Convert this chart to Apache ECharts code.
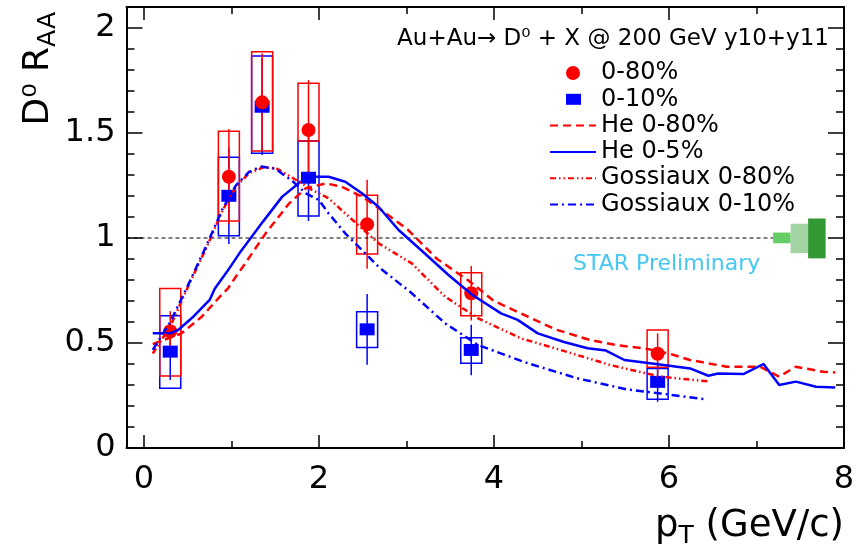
<!DOCTYPE html>
<html><head><meta charset="utf-8">
<script src="https://cdn.jsdelivr.net/npm/echarts@6/dist/echarts.min.js"></script>
<style>html,body{margin:0;padding:0;background:#fff}#c{width:856px;height:552px}</style>
</head><body><div id="c"></div>
<script>
// ---------- data ----------
const xMajorTicks = [0, 2, 4, 6, 8];
const xMinorTicks = [1, 3, 5, 7];
const yMajorTicks = [0, 0.5, 1, 1.5, 2];
const yMinorTicks = [0.1, 0.2, 0.3, 0.4, 0.6, 0.7, 0.8, 0.9, 1.1, 1.2, 1.3, 1.4, 1.6, 1.7, 1.8, 1.9];

const ptX     = [0.3, 0.97, 1.35, 1.88, 2.55, 3.74, 5.87];
// 0-80%
const raa080  = [0.556, 1.292, 1.646, 1.514, 1.065, 0.737, 0.449];
const stat080 = [0.095, 0.227, 0.233, 0.238, 0.212, 0.130, 0.097];
const sysLo080 = [0.343, 1.081, 1.414, 1.462, 0.924, 0.630, 0.384];
const sysHi080 = [0.760, 1.508, 1.887, 1.737, 1.203, 0.835, 0.562];
// 0-10%
const raa010  = [0.459, 1.201, 1.625, 1.287, 0.565, 0.467, 0.315];
const stat010 = [0.135, 0.230, 0.230, 0.206, 0.168, 0.120, 0.095];
const sysLo010 = [0.284, 1.011, 1.403, 1.105, 0.478, 0.403, 0.232];
const sysHi010 = [0.630, 1.384, 1.867, 1.462, 0.649, 0.525, 0.379];

// model curves
const he080 = [[0.1,0.495],[0.43,0.546],[0.66,0.625],[0.85,0.713],[0.96,0.76],[1.05,0.816],[1.13,0.863],[1.39,1.022],[1.66,1.165],[1.85,1.237],[2.08,1.26],[2.26,1.244],[2.49,1.197],[2.66,1.149],[3.02,1.038],[3.35,0.9],[3.70,0.8],[4.0,0.7],[4.39,0.625],[4.7,0.565],[5.1,0.514],[5.4,0.49],[5.71,0.475],[6.0,0.45],[6.24,0.419],[6.66,0.387],[7.04,0.387],[7.26,0.34],[7.45,0.387],[7.76,0.363],[7.9,0.36]];
const he05 = [[0.1,0.546],[0.3,0.546],[0.39,0.562],[0.55,0.62],[0.75,0.705],[0.81,0.76],[0.95,0.84],[1.09,0.927],[1.36,1.078],[1.58,1.197],[1.79,1.268],[1.89,1.292],[2.11,1.292],[2.30,1.268],[2.49,1.213],[2.68,1.149],[2.91,1.038],[3.2,0.93],[3.48,0.824],[3.75,0.73],[4.08,0.641],[4.27,0.61],[4.5,0.546],[4.8,0.505],[5.07,0.475],[5.28,0.464],[5.49,0.419],[5.94,0.395],[6.24,0.379],[6.45,0.344],[6.56,0.355],[6.85,0.352],[7.08,0.40],[7.26,0.30],[7.45,0.316],[7.68,0.292],[7.9,0.288]];
const gos080 = [[0.1,0.45],[0.3,0.578],[0.52,0.784],[0.72,0.96],[0.9,1.133],[1.05,1.244],[1.2,1.308],[1.36,1.336],[1.51,1.332],[1.74,1.276],[1.92,1.229],[2.11,1.189],[2.30,1.117],[2.68,0.975],[3.06,0.879],[3.44,0.721],[3.82,0.617],[4.31,0.522],[4.76,0.467],[5.33,0.395],[5.9,0.34],[6.47,0.316]];
const gos010 = [[0.1,0.467],[0.3,0.6],[0.52,0.79],[0.72,0.97],[0.9,1.14],[1.05,1.25],[1.2,1.315],[1.34,1.34],[1.5,1.33],[1.7,1.27],[1.85,1.213],[2.0,1.18],[2.11,1.117],[2.30,1.022],[2.49,0.943],[2.68,0.863],[3.06,0.737],[3.44,0.594],[3.82,0.49],[4.39,0.403],[4.95,0.332],[5.52,0.279],[5.9,0.26],[6.41,0.232]];

const unityLine = [[-0.2, 1], [7.19, 1]];
// normalisation uncertainty boxes
const normX0 = [7.19, 7.39, 7.59];
const normX1 = [7.39, 7.59, 7.79];
const normLo = [0.975, 0.928, 0.903];
const normHi = [1.026, 1.068, 1.093];

// ---------- styling ----------
const FONT = 'DejaVu Sans';
const RED = '#ff0000', BLUE = '#0000ff';
const BOX_HW = 0.12;
const normColors = ['#66cc66', '#a3d4a3', '#339933'];

function zip3(a, b, c) { return a.map((v, i) => [v, b[i], c[i]]); }
function errData(y, e) { return ptX.map((x, i) => [x, y[i] - e[i], y[i] + e[i]]); }

function boxRender(color) {
  return function (params, api) {
    const x = api.value(0), lo = api.value(1), hi = api.value(2);
    const p1 = api.coord([x - BOX_HW, hi]), p2 = api.coord([x + BOX_HW, lo]);
    return { type: 'rect', shape: { x: p1[0], y: p1[1], width: p2[0] - p1[0], height: p2[1] - p1[1] },
      style: { fill: 'none', stroke: color, lineWidth: 1.5 } };
  };
}
function errRender(color) {
  return function (params, api) {
    const x = api.value(0);
    const a = api.coord([x, api.value(1)]), b = api.coord([x, api.value(2)]);
    return { type: 'line', shape: { x1: a[0], y1: a[1], x2: b[0], y2: b[1] },
      style: { stroke: color, lineWidth: 1.5 } };
  };
}
function normRender(params, api) {
  const p1 = api.coord([api.value(0), api.value(3)]), p2 = api.coord([api.value(1), api.value(2)]);
  return { type: 'rect', shape: { x: p1[0], y: p1[1], width: p2[0] - p1[0], height: p2[1] - p1[1] },
    style: { fill: normColors[params.dataIndex], stroke: 'none' } };
}

const axisLineStyle = { color: '#000', width: 2 };
function xAx(pos, ticks, len, showLine, withLabels) {
  const ax = { type: 'value', min: -0.2, max: 8, position: pos,
    axisLine: { show: showLine, onZero: false, lineStyle: axisLineStyle },
    axisTick: { show: true, inside: true, length: len, customValues: ticks, lineStyle: { color: '#000', width: 1.5 } },
    axisLabel: { show: false }, splitLine: { show: false }, minorTick: { show: false } };
  if (withLabels) {
    ax.axisLabel = { show: true, customValues: xMajorTicks, margin: 16, fontSize: 32, fontFamily: FONT, color: '#000' };
    ax.name = '{m|p}{s|T}{m| (GeV/c)}';
    ax.nameLocation = 'end';
    ax.nameGap = 0;
    ax.nameMoveOverlap = false;
    ax.nameTextStyle = { align: 'right', verticalAlign: 'top', padding: [64, 0, 0, 0],
      rich: { m: { fontSize: 37, fontFamily: FONT, color: '#000', lineHeight: 37, padding: [0, 0, 8, 0] },
              s: { fontSize: 25, fontFamily: FONT, color: '#000', lineHeight: 25, verticalAlign: 'bottom' } } };
  }
  return ax;
}
function yAx(pos, ticks, len, showLine, withLabels) {
  const ax = { type: 'value', min: 0, max: 2.1, position: pos,
    axisLine: { show: showLine, onZero: false, lineStyle: axisLineStyle },
    axisTick: { show: true, inside: true, length: len, customValues: ticks, lineStyle: { color: '#000', width: 1.5 } },
    axisLabel: { show: false }, splitLine: { show: false }, minorTick: { show: false } };
  if (withLabels) {
    ax.axisLabel = { show: true, customValues: yMajorTicks, margin: 11, fontSize: 32, fontFamily: FONT, color: '#000' };
    ax.name = '{m|D⁰ R}{s|AA}';
    ax.nameLocation = 'end';
    ax.nameRotate = 90;
    ax.nameGap = -5;
    ax.nameMoveOverlap = false;
    ax.nameTextStyle = { align: 'right', verticalAlign: 'bottom', padding: [0, 0, 66, 0],
      rich: { m: { fontSize: 36, fontFamily: FONT, color: '#000', lineHeight: 36, padding: [0, 0, 8, 0] },
              s: { fontSize: 25, fontFamily: FONT, color: '#000', lineHeight: 25, verticalAlign: 'bottom' } } };
  }
  return ax;
}

const hideSym = { opacity: 0 };
const chart = echarts.init(document.getElementById('c'), null, { renderer: 'canvas' });
chart.setOption({
  animation: false,
  backgroundColor: '#fff',
  title: { text: 'Au+Au→ D⁰ + X @ 200 GeV y10+y11', right: 22, top: 23,
    textStyle: { fontSize: 23, fontWeight: 'normal', fontFamily: FONT, color: '#000' } },
  legend: { orient: 'vertical', left: 544, top: 56, itemWidth: 46, itemHeight: 14, itemGap: 2.3,
    selectedMode: false,
    data: [
      { name: '0-80%', icon: 'circle' },
      { name: '0-10%', icon: 'path://M0,0M46,14M16,1.5h15v11h-15z' },
      { name: 'He 0-80%', itemStyle: hideSym },
      { name: 'He 0-5%', itemStyle: hideSym },
      { name: 'Gossiaux 0-80%', itemStyle: hideSym },
      { name: 'Gossiaux 0-10%', itemStyle: hideSym }
    ],
    textStyle: { fontSize: 24, fontFamily: FONT, color: '#000', lineHeight: 24 } },
  grid: { left: 126.5, right: 12, top: 7, bottom: 104, containLabel: false, outerBoundsMode: 'none' },
  graphic: [{ type: 'text', left: 573, top: 253,
    style: { text: 'STAR Preliminary', fill: '#44c8f2', font: '22px "DejaVu Sans"' } }],
  xAxis: [xAx('bottom', xMajorTicks, 13, true, true), xAx('bottom', xMinorTicks, 7, false, false),
          xAx('top', xMajorTicks, 13, true, false), xAx('top', xMinorTicks, 7, false, false)],
  yAxis: [yAx('left', yMajorTicks, 16, true, true), yAx('left', yMinorTicks, 8, false, false),
          yAx('right', yMajorTicks, 16, true, false), yAx('right', yMinorTicks, 8, false, false)],
  series: [
    { type: 'line', data: unityLine, symbol: 'none', silent: true, lineStyle: { color: '#000', width: 1, type: [4, 3] } },
    { type: 'custom', data: normX0.map((v, i) => [v, normX1[i], normLo[i], normHi[i]]), renderItem: normRender,
      encode: { x: [0, 1], y: [2, 3] }, silent: true },
    { name: 'He 0-80%', type: 'line', data: he080, symbol: 'none', lineStyle: { color: RED, width: 2.5, type: [8, 5] }, itemStyle: { color: RED } },
    { name: 'He 0-5%', type: 'line', data: he05, symbol: 'none', lineStyle: { color: BLUE, width: 2.5 }, itemStyle: { color: BLUE } },
    { name: 'Gossiaux 0-80%', type: 'line', data: gos080, symbol: 'none', lineStyle: { color: RED, width: 2.5, type: [6, 3, 1.5, 3, 1.5, 3] }, itemStyle: { color: RED } },
    { name: 'Gossiaux 0-10%', type: 'line', data: gos010, symbol: 'none', lineStyle: { color: BLUE, width: 2.5, type: [8, 4, 2, 4] }, itemStyle: { color: BLUE } },
    { type: 'custom', data: zip3(ptX, sysLo010, sysHi010), renderItem: boxRender(BLUE), encode: { x: 0, y: [1, 2] }, silent: true },
    { type: 'custom', data: zip3(ptX, sysLo080, sysHi080), renderItem: boxRender(RED), encode: { x: 0, y: [1, 2] }, silent: true },
    { type: 'custom', data: errData(raa010, stat010), renderItem: errRender(BLUE), encode: { x: 0, y: [1, 2] }, silent: true },
    { type: 'custom', data: errData(raa080, stat080), renderItem: errRender(RED), encode: { x: 0, y: [1, 2] }, silent: true },
    { name: '0-10%', type: 'scatter', data: ptX.map((x, i) => [x, raa010[i]]), symbol: 'rect', symbolSize: [15, 12], itemStyle: { color: BLUE, opacity: 1 } },
    { name: '0-80%', type: 'scatter', data: ptX.map((x, i) => [x, raa080[i]]), symbol: 'circle', symbolSize: 14, itemStyle: { color: RED, opacity: 1 } }
  ]
});
</script></body></html>
